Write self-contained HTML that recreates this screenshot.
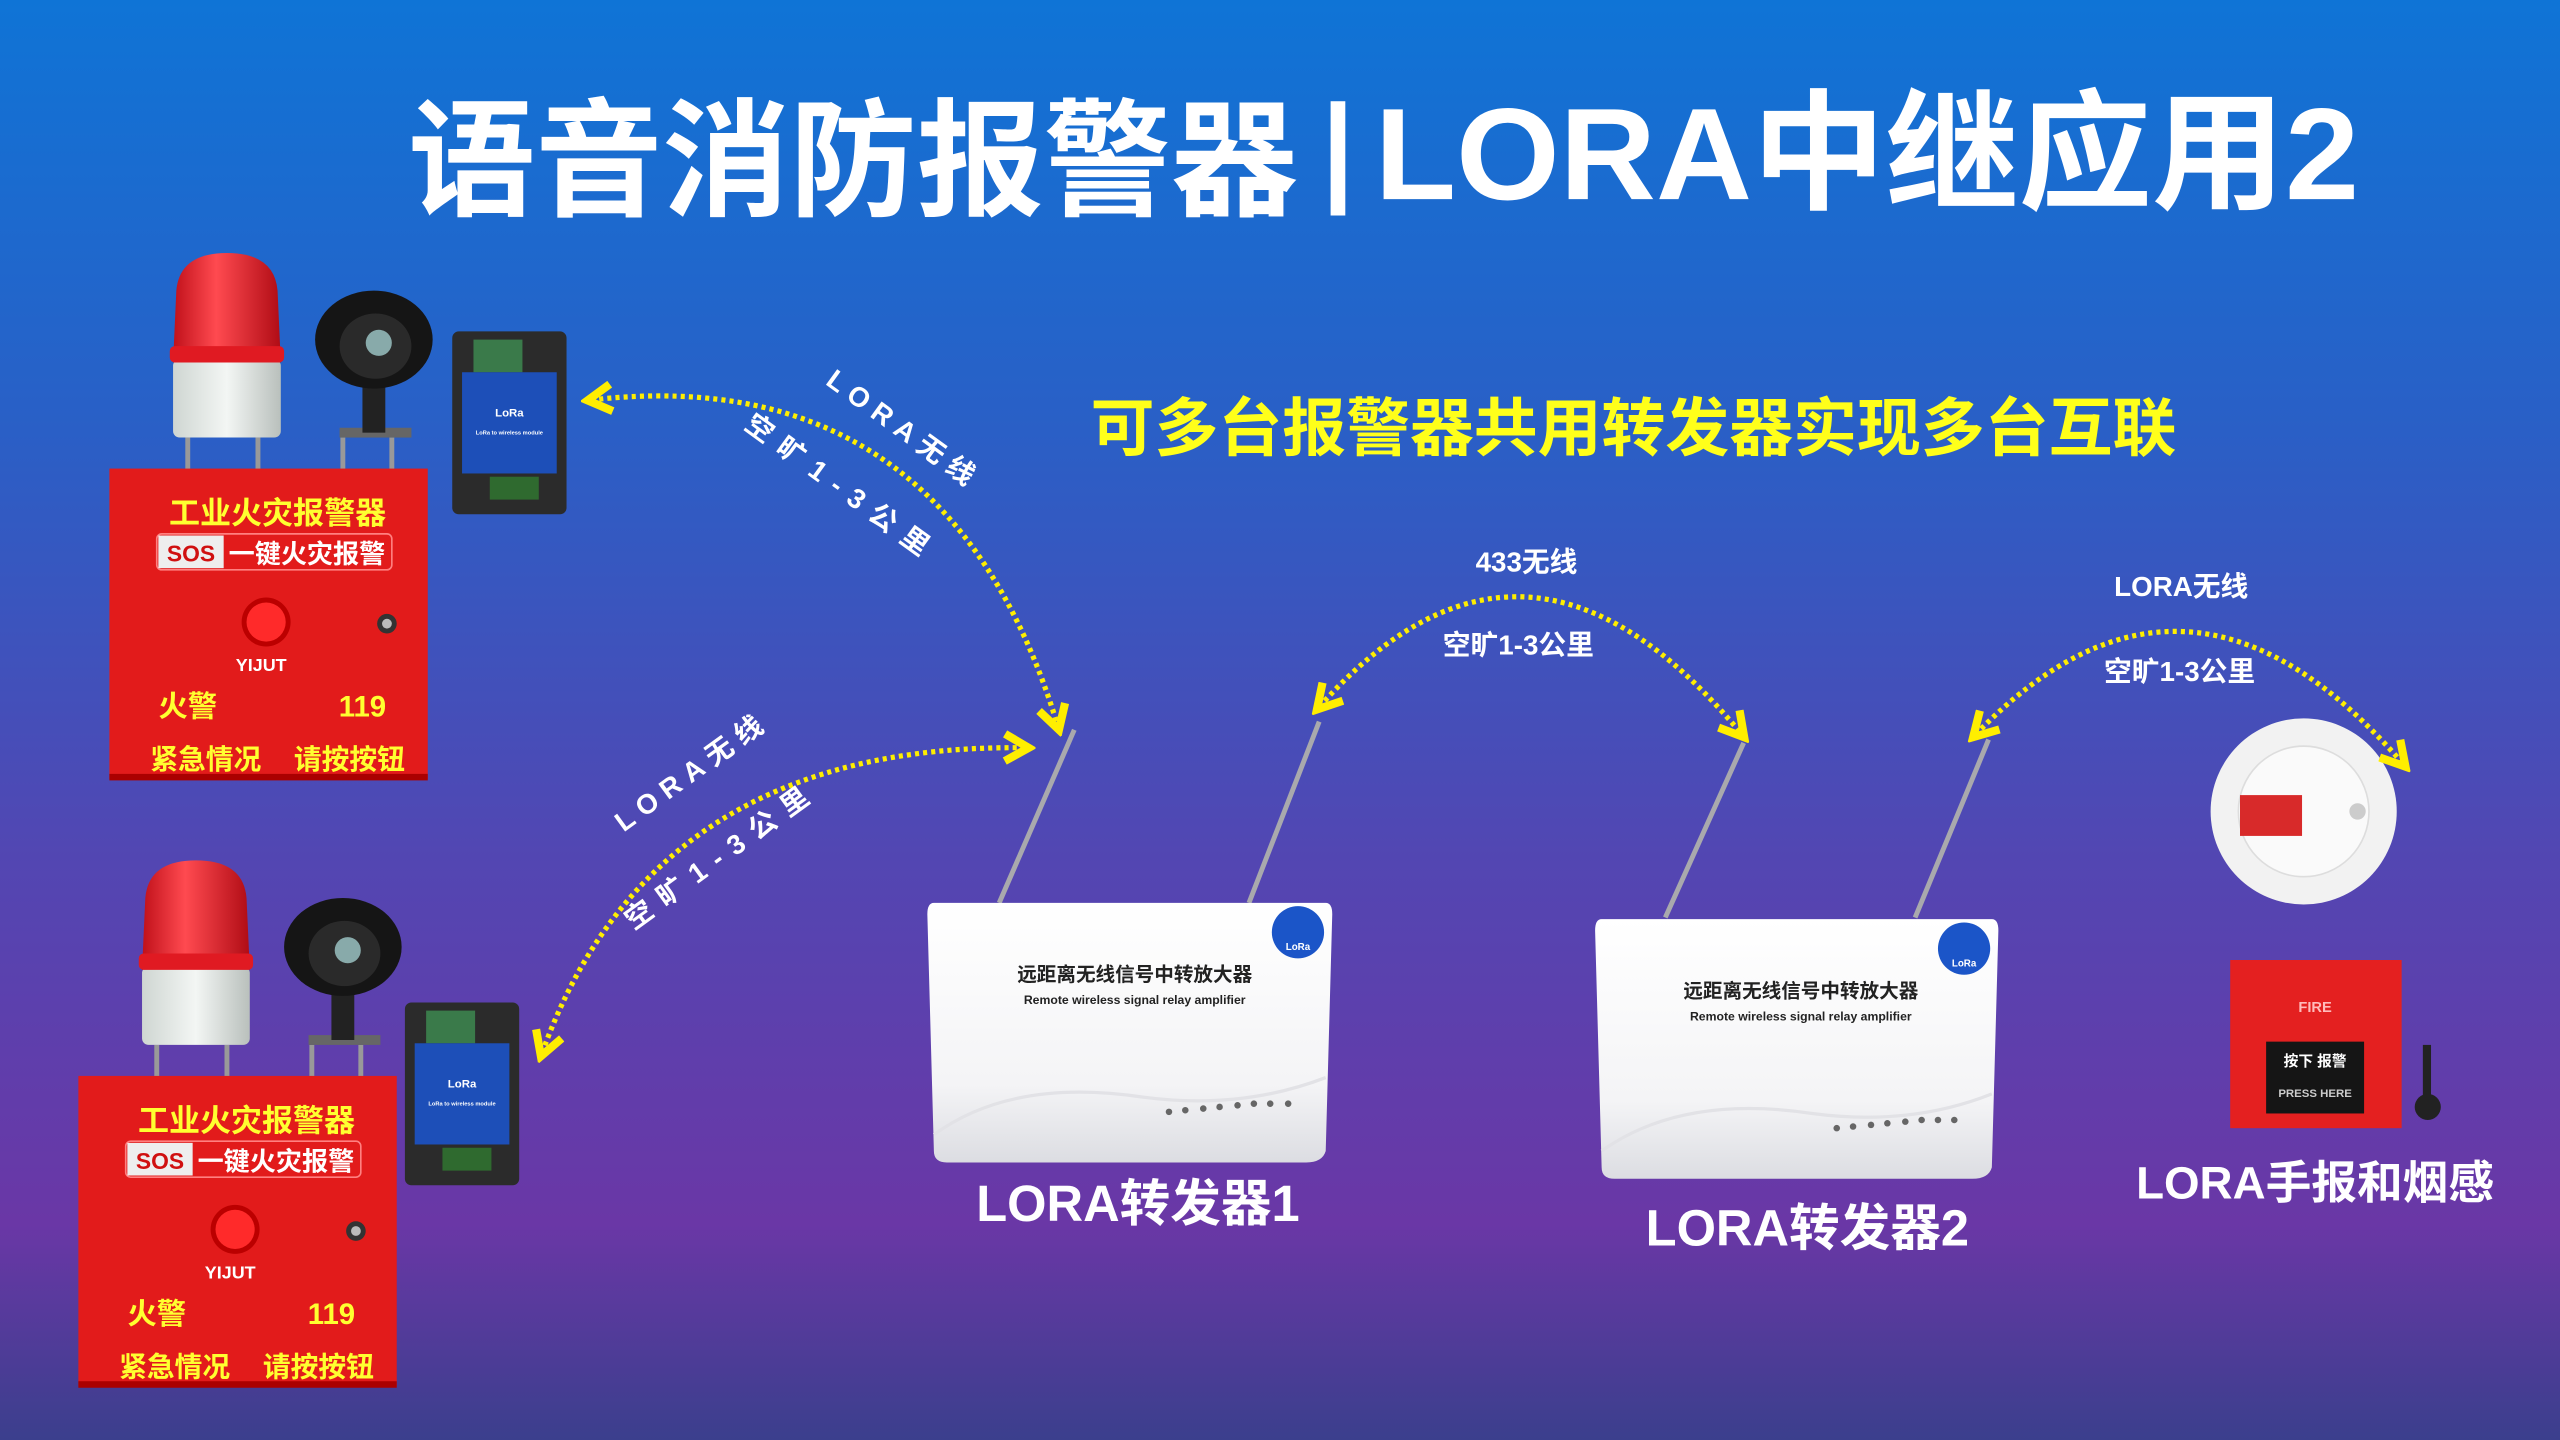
<!DOCTYPE html>
<html><head><meta charset="utf-8"><style>
html,body{margin:0;padding:0;width:2560px;height:1440px;overflow:hidden;background:#3a4aa8}
svg{display:block}
text{font-family:"Liberation Sans","Noto Sans CJK SC",sans-serif;font-weight:bold}
</style></head><body>
<svg width="2560" height="1440" viewBox="0 0 1568 882" xmlns="http://www.w3.org/2000/svg">
<defs>
<linearGradient id="bg" x1="0" y1="0" x2="0" y2="1">
<stop offset="0" stop-color="#0f74d6"/>
<stop offset="0.3" stop-color="#2a5fc6"/>
<stop offset="0.6" stop-color="#5346b2"/>
<stop offset="0.85" stop-color="#6a37a6"/>
<stop offset="1" stop-color="#3b3f8d"/>
</linearGradient>
<linearGradient id="dome" x1="0" y1="0" x2="1" y2="0">
<stop offset="0" stop-color="#c0101a"/><stop offset="0.4" stop-color="#ff4a50"/><stop offset="1" stop-color="#b00c15"/>
</linearGradient>
<linearGradient id="base" x1="0" y1="0" x2="1" y2="0">
<stop offset="0" stop-color="#cfd6d2"/><stop offset="0.5" stop-color="#f3f6f4"/><stop offset="1" stop-color="#b9c0bc"/>
</linearGradient>
<linearGradient id="relay" x1="0" y1="0" x2="0" y2="1">
<stop offset="0" stop-color="#ffffff"/><stop offset="0.7" stop-color="#f4f4f6"/><stop offset="1" stop-color="#dcdde2"/>
</linearGradient>
<marker id="ah" viewBox="0 0 10 10" refX="7" refY="5" markerWidth="6.5" markerHeight="6.5" orient="auto-start-reverse">
<path d="M1,1 L8,5 L1,9" fill="none" stroke="#ffee00" stroke-width="2.4"/>
</marker>
</defs>
<rect width="1568" height="882" fill="url(#bg)"/>

<!-- title -->
<text x="250" y="126" font-size="78" fill="#fff" textLength="545" lengthAdjust="spacingAndGlyphs">语音消防报警器</text>
<rect x="815" y="62" width="9" height="70" fill="#fff"/>
<text x="842" y="122" font-size="80" fill="#fff" textLength="603" lengthAdjust="spacingAndGlyphs">LORA中继应用2</text>
<text x="668" y="276" font-size="39" fill="#ffff1a" textLength="665" lengthAdjust="spacingAndGlyphs">可多台报警器共用转发器实现多台互联</text>

<!-- alarm 1 -->
<g>
<line x1="115" y1="268" x2="115" y2="290" stroke="#999" stroke-width="3"/><line x1="158" y1="268" x2="158" y2="290" stroke="#999" stroke-width="3"/>
<line x1="210" y1="268" x2="210" y2="290" stroke="#999" stroke-width="3"/><line x1="240" y1="268" x2="240" y2="290" stroke="#999" stroke-width="3"/>
<rect x="106" y="220" width="66" height="48" rx="4" fill="url(#base)"/>
<path d="M106,222 L108,178 Q110,155 139,155 Q168,155 170,178 L172,222 Z" fill="url(#dome)"/>
<rect x="104" y="212" width="70" height="10" rx="3" fill="#e01a22"/>
<rect x="208" y="262" width="44" height="6" fill="#666"/>
<rect x="222" y="235" width="14" height="30" fill="#222"/>
<ellipse cx="229" cy="208" rx="36" ry="30" fill="#151515"/>
<ellipse cx="230" cy="212" rx="22" ry="20" fill="#2a2a2a"/>
<circle cx="232" cy="210" r="8" fill="#8aa"/>
<rect x="67" y="287" width="195" height="190" fill="#e21b1b"/>
<rect x="67" y="474" width="195" height="4" fill="#a00"/>
<text x="170" y="321" font-size="19" fill="#ffff30" text-anchor="middle">工业火灾报警器</text>
<rect x="96" y="327" width="144" height="22" rx="3" fill="none" stroke="#ff8080" stroke-width="1"/>
<rect x="97" y="328" width="40" height="20" fill="#eee"/>
<text x="117" y="344" font-size="14" fill="#d01010" text-anchor="middle">SOS</text>
<text x="188" y="345" font-size="16" fill="#fff" text-anchor="middle">一键火灾报警</text>
<circle cx="163" cy="381" r="15" fill="#b00" /><circle cx="163" cy="381" r="12" fill="#ff2a2a"/>
<circle cx="237" cy="382" r="6" fill="#333"/><circle cx="237" cy="382" r="3" fill="#bbb"/>
<text x="160" y="411" font-size="11" fill="#fff" text-anchor="middle">YIJUT</text>
<text x="115" y="439" font-size="18" fill="#ffff30" text-anchor="middle">火警</text>
<text x="222" y="439" font-size="18" fill="#ffff30" text-anchor="middle">119</text>
<text x="126" y="471" font-size="17" fill="#ffff30" text-anchor="middle">紧急情况</text>
<text x="214" y="471" font-size="17" fill="#ffff30" text-anchor="middle">请按按钮</text>
<rect x="277" y="203" width="70" height="112" rx="4" fill="#2b2b2b"/>
<rect x="290" y="208" width="30" height="20" fill="#3a7a4a"/>
<rect x="283" y="228" width="58" height="62" fill="#1d4fb8"/>
<text x="312" y="255" font-size="7" fill="#fff" text-anchor="middle">LoRa</text>
<text x="312" y="266" font-size="3.5" fill="#fff" text-anchor="middle">LoRa to wireless module</text>
<rect x="300" y="292" width="30" height="14" fill="#2f6a2f"/>
</g>

<!-- alarm 2 -->
<g transform="translate(-19,372)">
<line x1="115" y1="268" x2="115" y2="290" stroke="#999" stroke-width="3"/><line x1="158" y1="268" x2="158" y2="290" stroke="#999" stroke-width="3"/>
<line x1="210" y1="268" x2="210" y2="290" stroke="#999" stroke-width="3"/><line x1="240" y1="268" x2="240" y2="290" stroke="#999" stroke-width="3"/>
<rect x="106" y="220" width="66" height="48" rx="4" fill="url(#base)"/>
<path d="M106,222 L108,178 Q110,155 139,155 Q168,155 170,178 L172,222 Z" fill="url(#dome)"/>
<rect x="104" y="212" width="70" height="10" rx="3" fill="#e01a22"/>
<rect x="208" y="262" width="44" height="6" fill="#666"/>
<rect x="222" y="235" width="14" height="30" fill="#222"/>
<ellipse cx="229" cy="208" rx="36" ry="30" fill="#151515"/>
<ellipse cx="230" cy="212" rx="22" ry="20" fill="#2a2a2a"/>
<circle cx="232" cy="210" r="8" fill="#8aa"/>
<rect x="67" y="287" width="195" height="190" fill="#e21b1b"/>
<rect x="67" y="474" width="195" height="4" fill="#a00"/>
<text x="170" y="321" font-size="19" fill="#ffff30" text-anchor="middle">工业火灾报警器</text>
<rect x="96" y="327" width="144" height="22" rx="3" fill="none" stroke="#ff8080" stroke-width="1"/>
<rect x="97" y="328" width="40" height="20" fill="#eee"/>
<text x="117" y="344" font-size="14" fill="#d01010" text-anchor="middle">SOS</text>
<text x="188" y="345" font-size="16" fill="#fff" text-anchor="middle">一键火灾报警</text>
<circle cx="163" cy="381" r="15" fill="#b00" /><circle cx="163" cy="381" r="12" fill="#ff2a2a"/>
<circle cx="237" cy="382" r="6" fill="#333"/><circle cx="237" cy="382" r="3" fill="#bbb"/>
<text x="160" y="411" font-size="11" fill="#fff" text-anchor="middle">YIJUT</text>
<text x="115" y="439" font-size="18" fill="#ffff30" text-anchor="middle">火警</text>
<text x="222" y="439" font-size="18" fill="#ffff30" text-anchor="middle">119</text>
<text x="126" y="471" font-size="17" fill="#ffff30" text-anchor="middle">紧急情况</text>
<text x="214" y="471" font-size="17" fill="#ffff30" text-anchor="middle">请按按钮</text>
<rect x="267" y="242" width="70" height="112" rx="4" fill="#2b2b2b"/>
<rect x="280" y="247" width="30" height="20" fill="#3a7a4a"/>
<rect x="273" y="267" width="58" height="62" fill="#1d4fb8"/>
<text x="302" y="294" font-size="7" fill="#fff" text-anchor="middle">LoRa</text>
<text x="302" y="305" font-size="3.5" fill="#fff" text-anchor="middle">LoRa to wireless module</text>
<rect x="290" y="331" width="30" height="14" fill="#2f6a2f"/>
</g>

<!-- relay 1 -->
<g>
<line x1="612" y1="553" x2="658" y2="447" stroke="#a9a9ad" stroke-width="3"/>
<line x1="765" y1="553" x2="808" y2="442" stroke="#a9a9ad" stroke-width="3"/>
<path d="M572,553 L812,553 Q816,553 816,560 L812,705 Q810,712 800,712 L580,712 Q572,712 572,705 L568,560 Q568,553 572,553 Z" fill="url(#relay)"/>
<path d="M572,695 Q620,660 700,672 Q760,680 812,660" fill="none" stroke="#e2e2e6" stroke-width="2"/>
<circle cx="795" cy="571" r="16" fill="#1b55c8"/>
<text x="795" y="582" font-size="6" fill="#fff" text-anchor="middle">LoRa</text>
<text x="695" y="601" font-size="12" fill="#222" text-anchor="middle">远距离无线信号中转放大器</text>
<text x="695" y="615" font-size="7.5" fill="#222" text-anchor="middle">Remote wireless signal relay amplifier</text>
<g fill="#666"><circle cx="716" cy="681" r="2"/><circle cx="726" cy="680" r="2"/><circle cx="737" cy="679" r="2"/><circle cx="747" cy="678" r="2"/><circle cx="758" cy="677" r="2"/><circle cx="768" cy="676" r="2"/><circle cx="778" cy="676" r="2"/><circle cx="789" cy="676" r="2"/></g>
<text x="697" y="748" font-size="31" fill="#fff" text-anchor="middle">LORA转发器1</text>
</g>

<!-- relay 2 -->
<g>
<line x1="1020" y1="562" x2="1068" y2="455" stroke="#a9a9ad" stroke-width="3"/>
<line x1="1173" y1="562" x2="1218" y2="453" stroke="#a9a9ad" stroke-width="3"/>
<path d="M981,563 L1220,563 Q1224,563 1224,570 L1220,715 Q1218,722 1208,722 L989,722 Q981,722 981,715 L977,570 Q977,563 981,563 Z" fill="url(#relay)"/>
<path d="M981,705 Q1030,670 1110,682 Q1170,690 1220,670" fill="none" stroke="#e2e2e6" stroke-width="2"/>
<circle cx="1203" cy="581" r="16" fill="#1b55c8"/>
<text x="1203" y="592" font-size="6" fill="#fff" text-anchor="middle">LoRa</text>
<text x="1103" y="611" font-size="12" fill="#222" text-anchor="middle">远距离无线信号中转放大器</text>
<text x="1103" y="625" font-size="7.5" fill="#222" text-anchor="middle">Remote wireless signal relay amplifier</text>
<g fill="#666"><circle cx="1125" cy="691" r="2"/><circle cx="1135" cy="690" r="2"/><circle cx="1146" cy="689" r="2"/><circle cx="1156" cy="688" r="2"/><circle cx="1167" cy="687" r="2"/><circle cx="1177" cy="686" r="2"/><circle cx="1187" cy="686" r="2"/><circle cx="1197" cy="686" r="2"/></g>
<text x="1107" y="763" font-size="31" fill="#fff" text-anchor="middle">LORA转发器2</text>
</g>

<!-- smoke detector -->
<circle cx="1411" cy="497" r="57" fill="#f2f2f2"/>
<circle cx="1411" cy="497" r="40" fill="#fafafa" stroke="#ddd"/>
<rect x="1372" y="487" width="38" height="25" fill="#d82a2a"/>
<circle cx="1444" cy="497" r="5" fill="#ccc"/>
<!-- manual call point -->
<rect x="1366" y="588" width="105" height="103" fill="#e42020"/>
<text x="1418" y="620" font-size="9" fill="#fbb" text-anchor="middle">FIRE</text>
<rect x="1388" y="638" width="60" height="44" fill="#151515"/>
<text x="1418" y="653" font-size="9" fill="#fff" text-anchor="middle">按下 报警</text>
<text x="1418" y="672" font-size="7" fill="#ccc" text-anchor="middle">PRESS HERE</text>
<rect x="1484" y="640" width="5" height="35" fill="#222"/><circle cx="1487" cy="678" r="8" fill="#222"/>
<text x="1418" y="734" font-size="28" fill="#fff" text-anchor="middle">LORA手报和烟感</text>

<!-- dotted arcs -->
<g fill="none" stroke="#ffee00" stroke-width="3.2" stroke-dasharray="2.5 2.5" marker-start="url(#ah)" marker-end="url(#ah)">
<path d="M362,245 Q580,220 648,445"/>
<path d="M332,645 Q400,455 628,458"/>
<path d="M808,433 Q935,290 1067,450"/>
<path d="M1210,450 Q1340,315 1472,468"/>
</g>

<!-- arc labels -->
<g font-size="17" fill="#fff">
<text transform="translate(505,235) rotate(36)" letter-spacing="5">LORA无线</text>
<text transform="translate(455,262) rotate(36)" letter-spacing="7">空旷1-3公里</text>
<text transform="translate(382,510) rotate(-36)" letter-spacing="5">LORA无线</text>
<text transform="translate(388,570) rotate(-36)" letter-spacing="7">空旷1-3公里</text>
<text x="935" y="350" text-anchor="middle">433无线</text>
<text x="930" y="401" text-anchor="middle">空旷1-3公里</text>
<text x="1336" y="365" text-anchor="middle">LORA无线</text>
<text x="1335" y="417" text-anchor="middle">空旷1-3公里</text>
</g>
</svg>
</body></html>
